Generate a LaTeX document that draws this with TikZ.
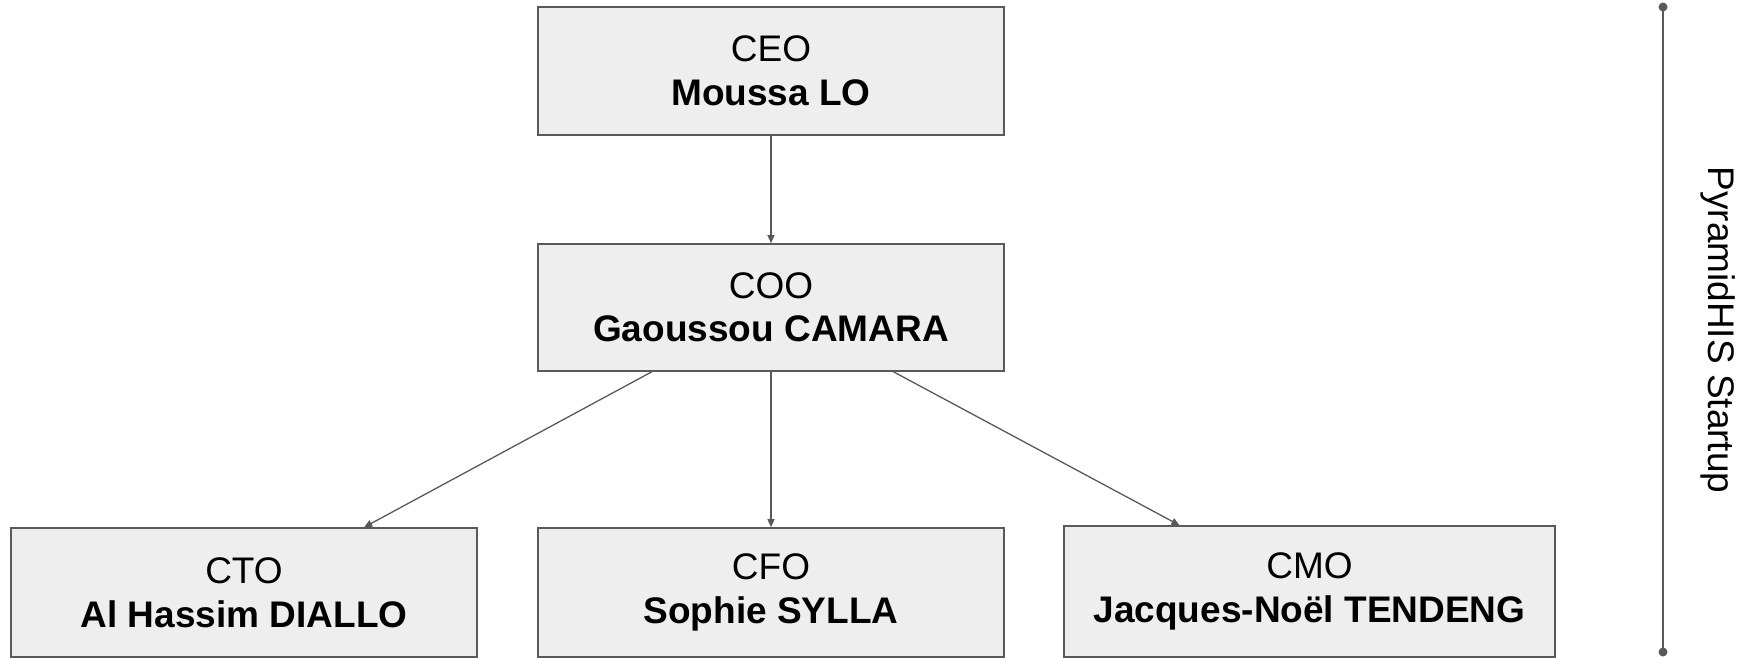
\documentclass[tikz,border=0pt]{standalone}
\usepackage{fontspec}
\setmainfont{Liberation Sans}
\usetikzlibrary{calc,arrows.meta}
\definecolor{boxfill}{HTML}{EEEEEE}
\definecolor{edge}{HTML}{595959}
\begin{document}
\begin{tikzpicture}[x=1pt,y=-1pt,
  role/.style={draw=edge, line width=1.6pt, fill=boxfill, rectangle, inner sep=0pt,
    align=center, font=\fontsize{37}{43.5}\selectfont, text=black},
  link/.style={draw=edge, line width=1.3pt, -{Triangle[length=8pt,width=7pt]}},
  bar/.style={draw=edge, line width=2.2pt}]
\useasboundingbox (0,0) rectangle (1744,657);
\node[role, minimum width=466pt, minimum height=128pt] (ceo) at (771,71) {CEO\\\textbf{Moussa LO}};
\node[role, minimum width=466pt, minimum height=127pt] (coo) at (771,307.5) {COO\\\textbf{Gaoussou CAMARA}};
\node[role, minimum width=466pt, minimum height=129pt] (cto) at (244,592.5) {CTO\\\textbf{Al Hassim DIALLO}};
\node[role, minimum width=466pt, minimum height=129pt] (cfo) at (771,592.5) {CFO\\\textbf{Sophie SYLLA}};
\node[role, minimum width=491pt, minimum height=131pt] (cmo) at (1309.5,591.5) {CMO\\\textbf{Jacques-Noël TENDENG}};
\draw[link] (ceo.south) -- (coo.north);
\draw[link] ($(coo.south west)!0.245!(coo.south east)$) -- ($(cto.north west)!0.757!(cto.north east)$);
\draw[link] (coo.south) -- (cfo.north);
\draw[link] ($(coo.south west)!0.762!(coo.south east)$) -- ($(cmo.north west)!0.236!(cmo.north east)$);
\coordinate (btop) at (1663,7);
\coordinate (bbot) at (1663,652);
\draw[bar] (btop) -- (bbot);
\fill[edge] (btop) circle (4.5pt);
\fill[edge] (bbot) circle (4.5pt);
\node[rotate=-90, font=\fontsize{37}{43.5}\selectfont, text=black] (lbl) at (1718,330) {PyramidHIS Startup};
\end{tikzpicture}
\end{document}
